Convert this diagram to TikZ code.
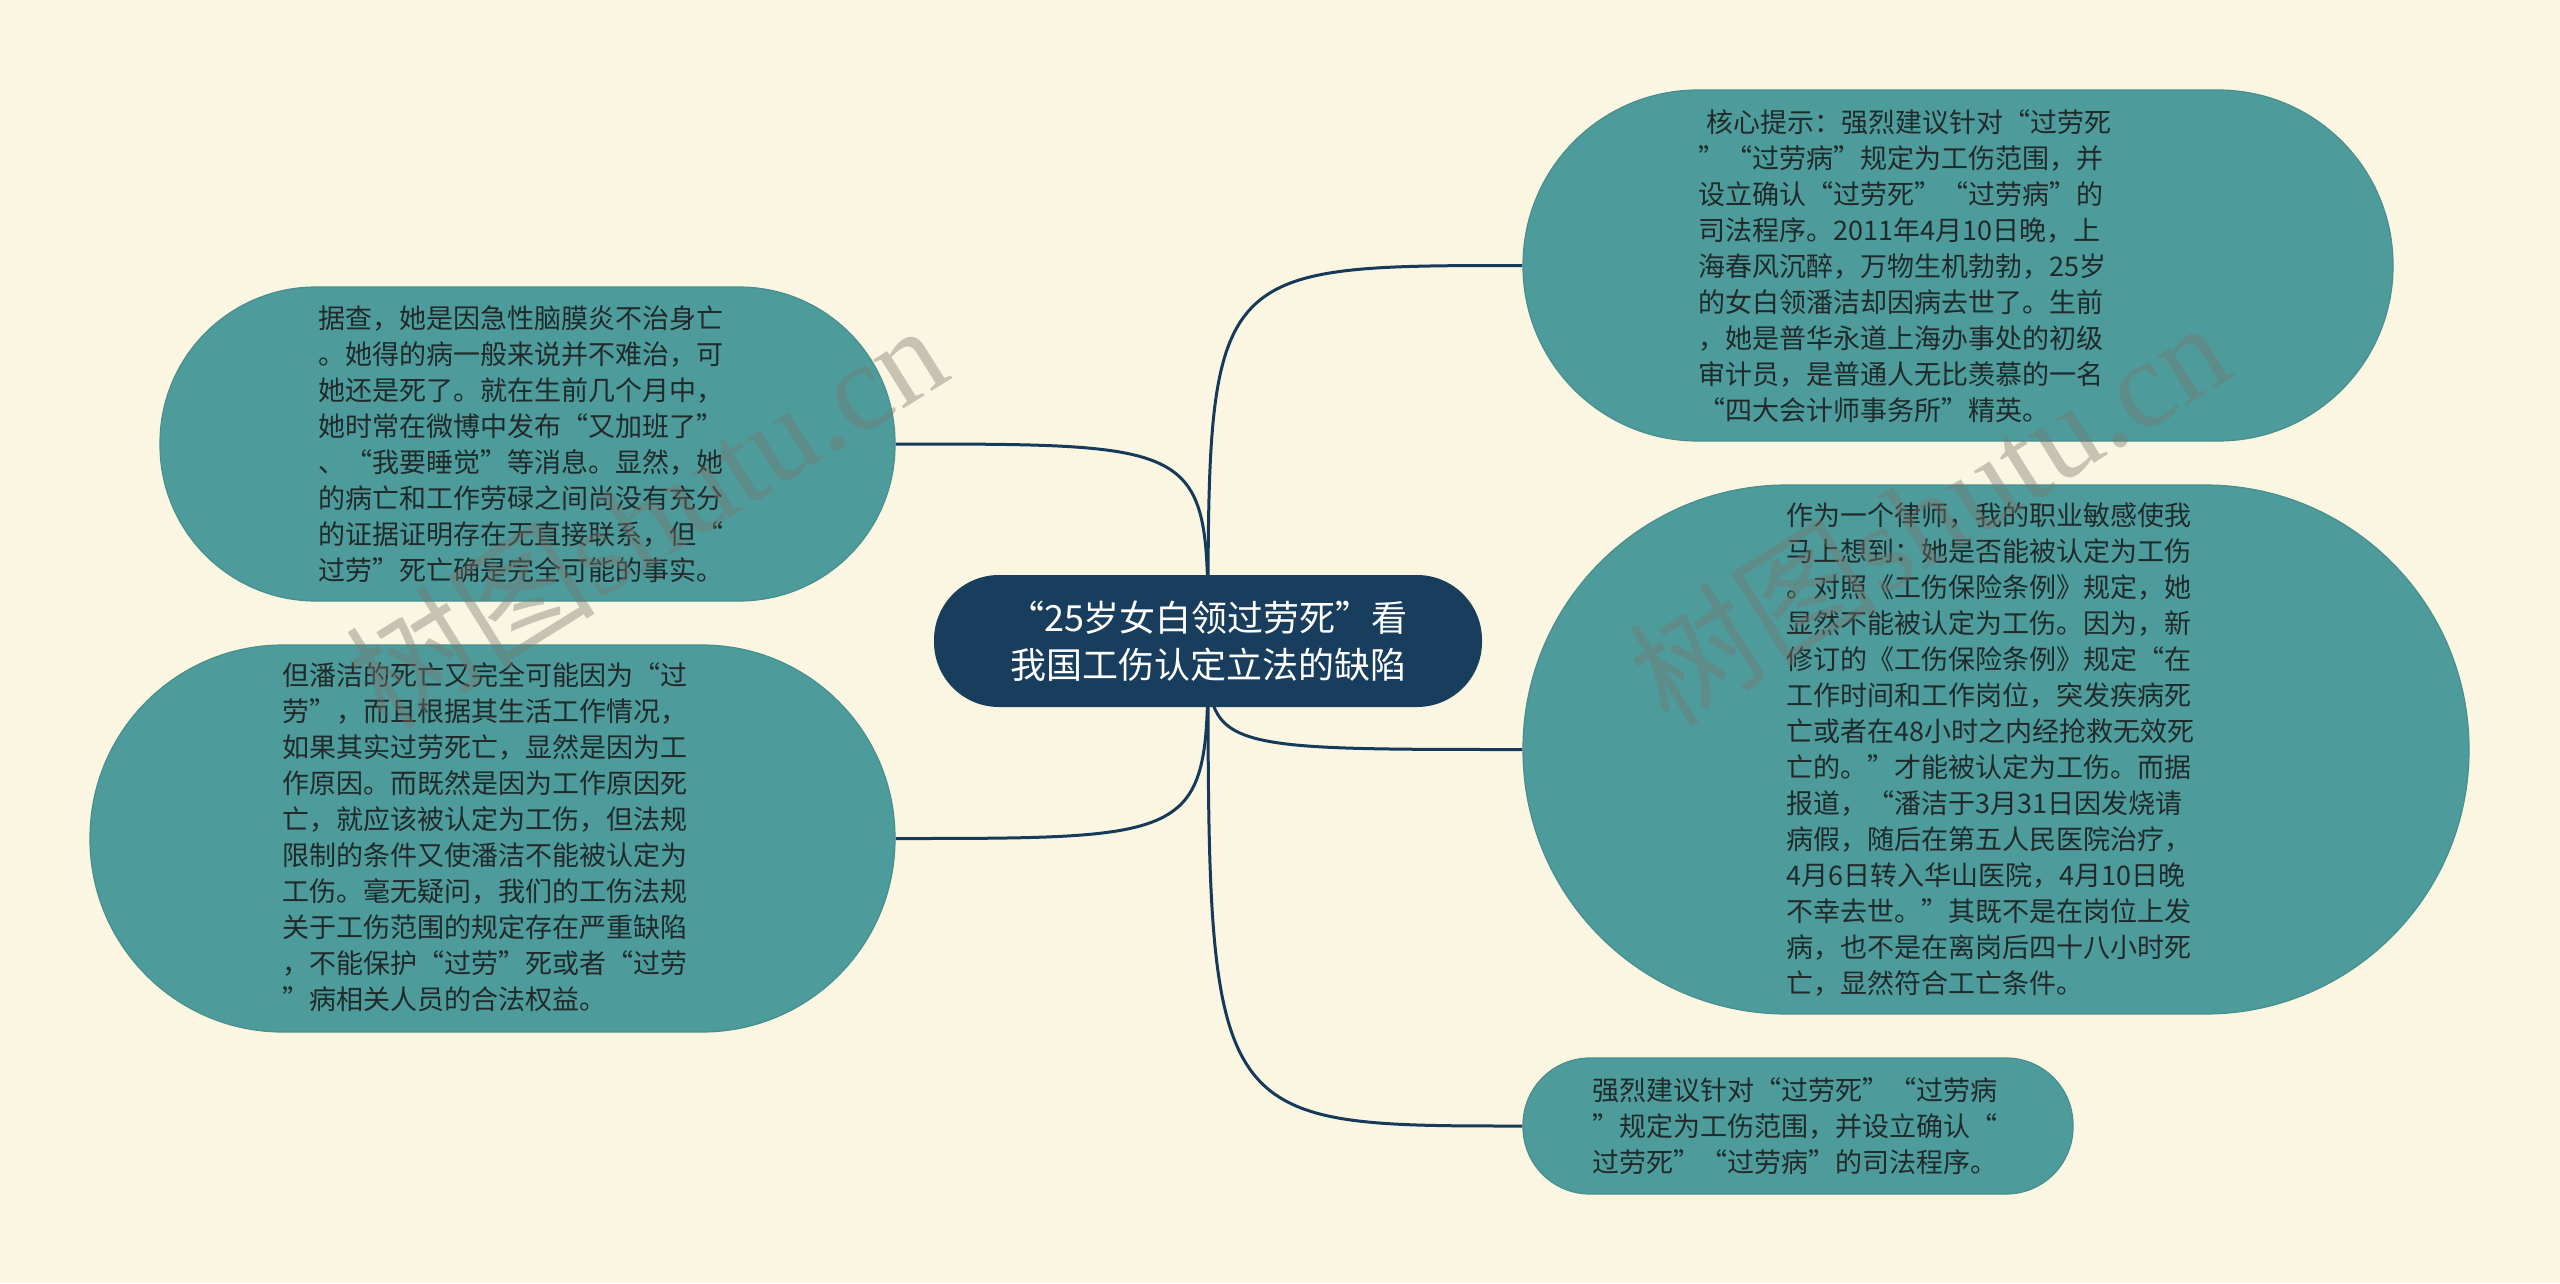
\documentclass[tikz,border=0pt]{standalone}
\usepackage{fontspec}
\setmainfont{Noto Sans CJK SC}
\newfontfamily\wmlatin{Liberation Serif}
\usetikzlibrary{backgrounds}
\definecolor{bgc}{HTML}{FBF6E1}
\definecolor{leafc}{HTML}{4E9B9B}
\definecolor{leafedge}{HTML}{468F8F}
\definecolor{rootc}{HTML}{183D5D}
\definecolor{linkc}{HTML}{163A59}
\definecolor{txtc}{HTML}{202A2A}
\definecolor{wmc}{HTML}{787870}
\tikzset{
  leafbox/.style={fill=leafc, draw=leafedge, line width=1.2pt, inner sep=0pt},
  rootbox/.style={fill=rootc, draw=none, inner sep=0pt, text=white,
    font=\fontsize{36}{47}\selectfont, align=center},
  leaftext/.style={text=txtc, font=\fontsize{27}{36}\selectfont, align=left,
    anchor=north west, inner sep=0pt},
  link/.style={draw=linkc, line width=3pt},
  wmark/.style={text=wmc, text opacity=0.4, rotate=32, inner sep=0pt,
    font=\fontsize{125}{130}\selectfont}
}
\begin{document}
\begin{tikzpicture}[x=1pt,y=-1pt]
\useasboundingbox (0,0) rectangle (2560,1283);

% boxes
\node[rootbox, minimum width=548pt, minimum height=132pt, rounded corners=65pt] (root) at (1208,641)
  {“25岁女白领过劳死”看\\我国工伤认定立法的缺陷};
\node[leafbox, minimum width=735pt, minimum height=314pt, rounded corners=156pt] (tl) at (527.5,444) {};
\node[leafbox, minimum width=805pt, minimum height=387pt, rounded corners=193pt] (bl) at (492.5,838.5) {};
\node[leafbox, minimum width=870pt, minimum height=351pt, rounded corners=175pt] (tr) at (1958,265.5) {};
\node[leafbox, minimum width=946pt, minimum height=529pt, rounded corners=264pt] (rm) at (1996,749.5) {};
\node[leafbox, minimum width=550pt, minimum height=136pt, rounded corners=67pt] (br) at (1798,1126) {};

% texts
\node[leaftext] (tlt) at (318,306) {据查，她是因急性脑膜炎不治身亡\\
。她得的病一般来说并不难治，可\\
她还是死了。就在生前几个月中，\\
她时常在微博中发布“又加班了”\\
、“我要睡觉”等消息。显然，她\\
的病亡和工作劳碌之间尚没有充分\\
的证据证明存在无直接联系，但“\\
过劳”死亡确是完全可能的事实。};

\node[leaftext] (blt) at (282,662) {但潘洁的死亡又完全可能因为“过\\
劳”，而且根据其生活工作情况，\\
如果其实过劳死亡，显然是因为工\\
作原因。而既然是因为工作原因死\\
亡，就应该被认定为工伤，但法规\\
限制的条件又使潘洁不能被认定为\\
工伤。毫无疑问，我们的工伤法规\\
关于工伤范围的规定存在严重缺陷\\
，不能保护“过劳”死或者“过劳\\
”病相关人员的合法权益。};

\node[leaftext] (trt) at (1698,109) {\hspace*{8pt}核心提示：强烈建议针对“过劳死\\
”“过劳病”规定为工伤范围，并\\
设立确认“过劳死”“过劳病”的\\
司法程序。2011年4月10日晚，上\\
海春风沉醉，万物生机勃勃，25岁\\
的女白领潘洁却因病去世了。生前\\
，她是普华永道上海办事处的初级\\
审计员，是普通人无比羡慕的一名\\
“四大会计师事务所”精英。};

\node[leaftext] (rmt) at (1786,502) {作为一个律师，我的职业敏感使我\\
马上想到：她是否能被认定为工伤\\
。对照《工伤保险条例》规定，她\\
显然不能被认定为工伤。因为，新\\
修订的《工伤保险条例》规定“在\\
工作时间和工作岗位，突发疾病死\\
亡或者在48小时之内经抢救无效死\\
亡的。”才能被认定为工伤。而据\\
报道，“潘洁于3月31日因发烧请\\
病假，随后在第五人民医院治疗，\\
4月6日转入华山医院，4月10日晚\\
不幸去世。”其既不是在岗位上发\\
病，也不是在离岗后四十八小时死\\
亡，显然符合工亡条件。};

\node[leaftext] (brt) at (1592,1077) {强烈建议针对“过劳死”“过劳病\\
”规定为工伤范围，并设立确认“\\
过劳死”“过劳病”的司法程序。};

% background and connectors
\begin{scope}[on background layer]
  \fill[bgc] (0,0) rectangle (2560,1283);
  \draw[link] (root.center) .. controls (root.center |- tl.east) .. (tl.east);
  \draw[link] (root.center) .. controls (root.center |- bl.east) .. (bl.east);
  \draw[link] (root.center) .. controls (root.center |- tr.west) .. (tr.west);
  \draw[link] (root.center) .. controls (root.center |- rm.west) .. (rm.west);
  \draw[link] (root.center) .. controls (root.center |- br.west) .. (br.west);
\end{scope}

% watermarks
\node[wmark] (wm1) at (645,515) {树图{\wmlatin shutu.cn}};
\node[wmark] (wm2) at (1928,512) {树图{\wmlatin shutu.cn}};
\end{tikzpicture}
\end{document}
